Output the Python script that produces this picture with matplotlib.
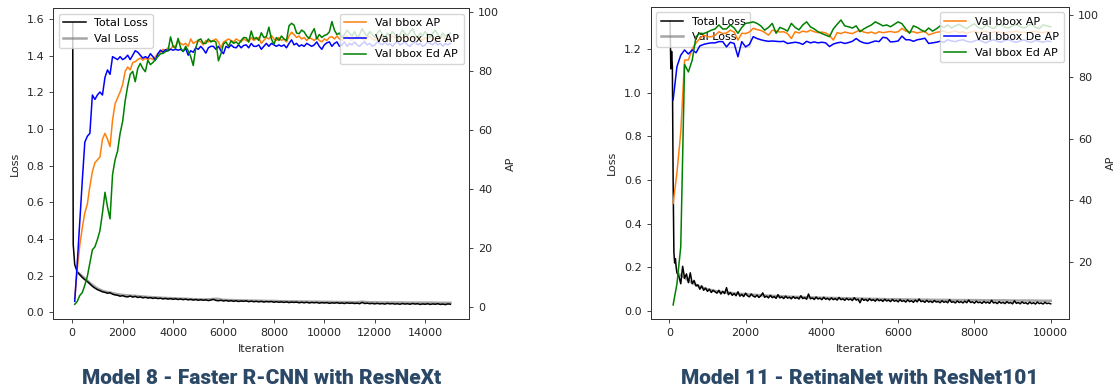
import numpy as np
import matplotlib
matplotlib.use("Agg")
import matplotlib.pyplot as plt

# ---------------- Model 8 (left) ----------------
m8_loss_x = [20, 40] + list(range(100, 15001, 100))
m8_total_loss = [1.58, 0.37,
    0.26, 0.22, 0.205, 0.19, 0.178, 0.168, 0.155, 0.142, 0.132, 0.124,
    0.118, 0.112, 0.109, 0.104, 0.107, 0.099, 0.095, 0.093, 0.088, 0.091,
    0.086, 0.084, 0.089, 0.083, 0.087, 0.081, 0.084, 0.079, 0.082, 0.078,
    0.080, 0.076, 0.079, 0.075, 0.077, 0.073, 0.076, 0.072, 0.075, 0.071,
    0.074, 0.070, 0.073, 0.069, 0.072, 0.068, 0.071, 0.067, 0.070, 0.066,
    0.069, 0.066, 0.068, 0.064, 0.067, 0.071, 0.065, 0.063, 0.066, 0.062,
    0.065, 0.061, 0.064, 0.060, 0.063, 0.059, 0.062, 0.060, 0.063, 0.058,
    0.061, 0.058, 0.060, 0.057, 0.060, 0.056, 0.059, 0.057, 0.059, 0.055,
    0.058, 0.055, 0.057, 0.054, 0.057, 0.053, 0.056, 0.054, 0.056, 0.052,
    0.055, 0.052, 0.055, 0.051, 0.054, 0.052, 0.054, 0.050, 0.053, 0.051,
    0.053, 0.049, 0.052, 0.050, 0.053, 0.049, 0.051, 0.048, 0.052, 0.049,
    0.051, 0.048, 0.050, 0.047, 0.054, 0.048, 0.050, 0.047, 0.049, 0.046,
    0.049, 0.046, 0.048, 0.045, 0.049, 0.046, 0.048, 0.045, 0.047, 0.044,
    0.048, 0.045, 0.047, 0.044, 0.048, 0.045, 0.047, 0.043, 0.046, 0.044,
    0.047, 0.043, 0.046, 0.044, 0.047, 0.043, 0.045, 0.042, 0.046, 0.044]
m8_val_x = list(range(250, 15001, 250))
m8_val_loss = [
    0.215, 0.185, 0.155, 0.130, 0.115, 0.108, 0.100, 0.095, 0.092, 0.090,
    0.087, 0.084, 0.082, 0.080, 0.078, 0.077, 0.075, 0.074, 0.072, 0.071,
    0.070, 0.072, 0.074, 0.068, 0.067, 0.066, 0.065, 0.064, 0.064, 0.063,
    0.062, 0.062, 0.061, 0.060, 0.060, 0.059, 0.059, 0.058, 0.058, 0.057,
    0.057, 0.056, 0.056, 0.056, 0.055, 0.058, 0.055, 0.055, 0.054, 0.054,
    0.054, 0.054, 0.053, 0.053, 0.053, 0.053, 0.053, 0.052, 0.052, 0.052]
m8_ap_x = list(range(100, 15001, 100))
m8_ap = [
    3, 13, 21, 27, 32, 35, 41, 46, 49, 50,
    51, 57, 59, 57, 54.5, 63.5, 69, 71, 73, 75.5,
    80, 81.5, 80.5, 83, 83.3, 84, 84.5, 83.8, 84.5, 84,
    84.5, 84, 85, 86, 86.5, 87.5, 87, 88, 87.5, 88.7,
    88.5, 90.4, 89.5, 89, 89.5, 88.5, 91, 89.5, 90, 90.5,
    90, 89, 90.5, 90, 90.4, 90.5, 91, 90, 88, 90,
    90.5, 91, 90.5, 90, 91, 90.5, 90, 91, 90.5, 90,
    91.5, 90.5, 91, 91.5, 89.5, 90.5, 91.5, 91, 92.2, 91,
    90.5, 91.5, 90.5, 91, 90, 92, 93.3, 92.5, 91.5, 92,
    91, 91.5, 90.5, 91.5, 91, 90.5, 91.5, 90.5, 90, 91,
    90.5, 91.5, 91.8, 91, 92, 91, 90.5, 91.5, 92, 91,
    90.5, 91.5, 91, 92, 91, 90.5, 91.5, 92, 91, 90.5,
    91.5, 91, 92, 91.5, 90.5, 91, 92, 91.5, 91, 90.5,
    91.5, 92, 91, 90.5, 91.5, 91, 92, 91, 90.5, 91.5,
    91, 92, 91.5, 90.5, 91, 91.5, 92, 91, 90.5, 91]
m8_ap_de = [
    2, 15, 29, 43, 56, 58, 59, 72, 70.5, 72,
    73, 72, 78, 80.5, 79, 85, 84.5, 84, 85, 84,
    84.5, 85.5, 84, 85.5, 87, 86.5, 85.5, 84.5, 85, 84.5,
    86, 85, 83.8, 86, 87.2, 86.5, 87.4, 87, 87.5, 87.2,
    87.5, 87.2, 87.5, 86.8, 87.8, 85.5, 87, 86.5, 88, 87.5,
    88.5, 87.5, 86.2, 88, 88.5, 88.5, 87.5, 88.5, 87, 86,
    88.5, 88, 89, 88.2, 88, 89, 88, 88.8, 89, 88,
    89.5, 88.5, 88.5, 89, 87.5, 88.5, 89.5, 88.5, 89.5, 89,
    88.5, 89, 88.5, 89, 88, 89.5, 90.7, 89, 89.5, 88.5,
    89, 88.5, 89.5, 89, 88.5, 89, 90, 88.5, 87.5, 89,
    89.7, 90, 88.5, 89.5, 90, 88.5, 89, 90, 88.5, 89.5,
    89, 90, 89, 88.5, 89.5, 90, 89, 89.5, 88.5, 89,
    90, 89.5, 89, 90, 89, 89.5, 88.5, 89.5, 90, 89,
    89.5, 90, 89, 88.5, 89.5, 90, 89, 89.5, 88.5, 89,
    90, 89.5, 89, 90, 89, 89.5, 88.5, 89.5, 89, 89.5]
m8_ap_ed = [
    1, 2, 4, 5, 7.5, 10.5, 15, 19.5, 20.5, 23,
    26, 32, 39, 34, 30, 45, 50, 53, 59, 63,
    70, 75, 79, 80, 76.5, 81, 82.7, 81, 79.9, 83.8,
    82.3, 83, 84, 85, 86, 86.1, 86.7, 87, 91.7, 88.5,
    87.8, 91.2, 88, 86.7, 88.5, 87, 85, 82, 88, 90.6,
    91, 89.5, 89.5, 91, 90, 90.4, 90, 83.6, 86, 89.3,
    90, 88.5, 90.4, 89.5, 90, 89.2, 90.5, 91.5, 91.4, 90,
    93.7, 91, 91.5, 90.5, 93.1, 91.5, 91.8, 95, 91, 89.2,
    91.5, 90.5, 92, 91, 90.5, 95.5, 96.3, 95.7, 93, 92.8,
    94, 93.4, 92, 91.2, 93, 94.5, 91, 92.5, 91.5, 92.2,
    92.5, 93.4, 96.9, 94, 92.5, 93, 91.5, 92.5, 94, 93,
    92, 93.5, 91.5, 92.5, 94.5, 93, 92, 93.5, 92.5, 91.5,
    93, 94, 92.5, 91.5, 93, 92, 93.5, 92.5, 91, 92.5,
    94, 93, 92, 93.5, 94.5, 92.5, 91.5, 93, 92, 93.5,
    92.5, 91.5, 93, 94, 92.5, 91.5, 93, 92, 92.5, 93]

# ---------------- Model 11 (right) ----------------
m11_loss_x = [20, 40, 60, 80, 100, 120, 140, 160, 180, 200] + list(range(250, 10001, 50))
m11_total_loss = [1.33, 1.11, 1.19, 1.12, 0.60, 0.27, 0.22, 0.24, 0.20, 0.175,
    0.160, 0.125, 0.205, 0.150, 0.170, 0.130, 0.175, 0.125, 0.140, 0.115,
    0.120, 0.100, 0.115, 0.095, 0.105, 0.090, 0.100, 0.085, 0.095, 0.088,
    0.082, 0.095, 0.078, 0.090, 0.080, 0.107, 0.075, 0.085, 0.072, 0.080,
    0.070, 0.088, 0.068, 0.076, 0.066, 0.082, 0.070, 0.065, 0.078, 0.068,
    0.064, 0.073, 0.062, 0.070, 0.083, 0.063, 0.068, 0.060, 0.072, 0.061,
    0.066, 0.058, 0.075, 0.060, 0.065, 0.057, 0.068, 0.059, 0.063, 0.056,
    0.066, 0.058, 0.062, 0.055, 0.070, 0.057, 0.061, 0.054, 0.078, 0.056,
    0.060, 0.053, 0.064, 0.055, 0.059, 0.052, 0.063, 0.054, 0.058, 0.051,
    0.060, 0.052, 0.057, 0.050, 0.062, 0.052, 0.056, 0.049, 0.058, 0.051,
    0.055, 0.048, 0.061, 0.050, 0.054, 0.038, 0.057, 0.049, 0.053, 0.046,
    0.056, 0.048, 0.052, 0.045, 0.055, 0.047, 0.051, 0.044, 0.054, 0.046,
    0.050, 0.043, 0.053, 0.045, 0.049, 0.042, 0.052, 0.044, 0.048, 0.041,
    0.051, 0.043, 0.047, 0.040, 0.050, 0.042, 0.055, 0.043, 0.046, 0.040,
    0.049, 0.041, 0.045, 0.039, 0.048, 0.041, 0.044, 0.038, 0.047, 0.040,
    0.044, 0.038, 0.052, 0.040, 0.043, 0.037, 0.046, 0.039, 0.043, 0.037,
    0.045, 0.038, 0.050, 0.039, 0.042, 0.036, 0.045, 0.038, 0.041, 0.035,
    0.044, 0.037, 0.041, 0.035, 0.049, 0.037, 0.040, 0.034, 0.043, 0.036,
    0.040, 0.034, 0.043, 0.036, 0.039, 0.033, 0.047, 0.035, 0.039, 0.033,
    0.042, 0.035, 0.038, 0.032, 0.041, 0.034, 0.038, 0.032, 0.041, 0.034,
    0.037, 0.032, 0.040, 0.034, 0.036, 0.033]
m11_val_x = list(range(250, 10001, 250))
m11_val_loss = [
    0.170, 0.140, 0.115, 0.100, 0.090, 0.085, 0.080, 0.077, 0.074, 0.071,
    0.069, 0.067, 0.065, 0.064, 0.062, 0.061, 0.060, 0.059, 0.058, 0.057,
    0.056, 0.055, 0.054, 0.054, 0.053, 0.052, 0.052, 0.051, 0.051, 0.050,
    0.050, 0.050, 0.049, 0.049, 0.049, 0.048, 0.048, 0.048, 0.047, 0.047]
m11_ap_x = list(range(100, 10001, 100))
m11_ap = [
    39, 49, 62, 85.4, 85.5, 89, 91, 92.4, 93.5, 93,
    93, 93.4, 94.6, 94, 94.2, 95.1, 94.5, 91.9, 94.1, 94,
    94.5, 95.7, 95.3, 95, 94.4, 93.5, 95.1, 94.8, 94.5, 94.6,
    94, 92.4, 94.6, 94.2, 94.8, 94.5, 95.1, 94.6, 94.3, 94.5,
    94.2, 93.5, 91.9, 94.3, 94, 94.5, 94.2, 94, 94.6, 95.1,
    94.5, 94.2, 94.5, 94, 94.6, 94.3, 94.5, 94.7, 94.4, 94.6,
    95.7, 94.8, 94.5, 94.6, 94.2, 94.5, 94.7, 93.6, 94, 94.4,
    94.6, 94.8, 94.2, 94.5, 94.9, 94.3, 94.6, 94, 94.5, 94.8,
    94.3, 94.6, 94.8, 94.2, 94.5, 94.7, 94.3, 94.1, 94.6, 94.4,
    94.8, 94.3, 94.5, 94.2, 94.6, 94.7, 94.4, 94.3, 94.6, 94.5]
m11_ap_de = [
    72.5, 83.3, 87, 88.7, 87.4, 88.7, 87.8, 90, 90.5, 90.8,
    91, 91, 91.4, 91.4, 89.7, 91.2, 90.8, 86.5, 91.4, 89.7,
    90.5, 93, 92.4, 92, 91.7, 91.5, 91.6, 91.5, 91.4, 91.5,
    90.8, 91, 91.2, 91, 90.5, 91.5, 91, 91.3, 91, 91.2,
    91, 89.8, 90.6, 91, 91.2, 90.8, 91.1, 91.5, 92.4, 91.5,
    91, 90.8, 91.2, 91.6, 91.4, 92.8, 92.6, 91.3, 91.4, 91.6,
    93.2, 92, 92, 91.5, 92, 92.2, 92.5, 90.8, 91, 91.2,
    91.5, 91.2, 92, 91.6, 91.4, 91.8, 92, 91.5, 91.2, 91.6,
    92, 91.5, 91, 91.6, 92, 91.5, 91.2, 91.8, 92, 91.5,
    91.2, 91.6, 92, 91.4, 91.2, 91.8, 91.5, 91.2, 91.6, 91.4]
m11_ap_ed = [
    6.2, 13, 25, 84, 81.6, 85.4, 93, 94.1, 94, 94.5,
    95.1, 95.5, 96.8, 95.5, 95.5, 96.8, 95.8, 94.1, 96, 97.3,
    97.5, 97.8, 97.3, 96.5, 95.1, 96, 97.3, 94.1, 96, 95.5,
    94.8, 97.3, 96, 95.2, 96.8, 97.8, 96.2, 95.5, 94.6, 94,
    93.5, 93, 95.5, 97, 98.4, 96.5, 96.2, 95.8, 96.5, 94.6,
    95.5, 96.2, 96.8, 97.8, 97.2, 96.5, 96.8, 96.2, 97, 97.8,
    97.2, 95.5, 94.1, 96.5, 96, 95.2, 94.6, 95.8, 94.8, 95.5,
    96.5, 96, 96.8, 95.8, 96.5, 97, 96.2, 95.6, 96.5, 97.2,
    96, 95.5, 96.8, 96.2, 95.6, 96.6, 97, 96, 95.8, 96.5,
    97, 96.2, 95.8, 96.5, 97.2, 96, 95.6, 96.8, 96.5, 96.2]

titles = ["Model 8 - Faster R-CNN with ResNeXt", "Model 11 - RetinaNet with ResNet101"]

plt.rcParams['font.family'] = ['DejaVu Sans']
FS = 8
TXT = '#262626'

W, H = 1116, 389
fig = plt.figure(figsize=(W / 100, H / 100), dpi=100)

panels = [
    dict(box=(53.3, 8.3, 469.3, 319.3), xlim=(-750, 15750), ylim=(-0.038, 1.658), ylim2=(-4.07, 101.4),
         yticks=[0.0, 0.2, 0.4, 0.6, 0.8, 1.0, 1.2, 1.4, 1.6], yticks2=[0, 20, 40, 60, 80, 100],
         xticks=list(range(0, 14001, 2000)),
         lx=m8_loss_x, tl=m8_total_loss, vx=m8_val_x, vl=m8_val_loss,
         ax_=m8_ap_x, ap=m8_ap, de=m8_ap_de, ed=m8_ap_ed),
    dict(box=(650.7, 6.7, 1069.3, 319.3), xlim=(-488, 10488), ylim=(-0.038, 1.395), ylim2=(1.55, 102.7),
         yticks=[0.0, 0.2, 0.4, 0.6, 0.8, 1.0, 1.2], yticks2=[20, 40, 60, 80, 100],
         xticks=list(range(0, 10001, 2000)),
         lx=m11_loss_x, tl=m11_total_loss, vx=m11_val_x, vl=m11_val_loss,
         ax_=m11_ap_x, ap=m11_ap, de=m11_ap_de, ed=m11_ap_ed),
]

for p, title in zip(panels, titles):
    x0, y0, x1, y1 = p['box']
    ax = fig.add_axes([x0 / W, 1 - y1 / H, (x1 - x0) / W, (y1 - y0) / H])
    ax2 = ax.twinx()
    ax.plot(p['lx'], p['tl'], color='black', lw=1.1, label='Total Loss', zorder=3)
    ax.plot(p['vx'], p['vl'], color='gray', lw=1.8, alpha=0.7, label='Val Loss', zorder=2)
    ax2.plot(p['ax_'], p['ap'], color='#ff7f0e', lw=1.1, label='Val bbox AP')
    ax2.plot(p['ax_'], p['de'], color='blue', lw=1.1, label='Val bbox De AP')
    ax2.plot(p['ax_'], p['ed'], color='green', lw=1.1, label='Val bbox Ed AP')
    ax.set_xlim(*p['xlim'])
    ax.set_ylim(*p['ylim'])
    ax2.set_ylim(*p['ylim2'])
    ax.set_xticks(p['xticks'])
    ax.set_yticks(p['yticks'])
    ax2.set_yticks(p['yticks2'])
    ax.set_xlabel('Iteration', fontsize=FS, color=TXT, labelpad=4)
    ax.set_ylabel('Loss', fontsize=FS, color=TXT, labelpad=5)
    ax2.set_ylabel('AP', fontsize=FS, color=TXT, labelpad=4.5)
    for a in (ax, ax2):
        a.tick_params(labelsize=FS, length=3, width=0.6, pad=3.5, colors=TXT)
        for s in a.spines.values():
            s.set_linewidth(0.7)
            s.set_color('#333333')
    ax.legend(loc='upper left', fontsize=FS, framealpha=0.8, borderaxespad=0.5)
    ax2.legend(loc='upper right', fontsize=FS, framealpha=0.8, borderaxespad=0.5)
    fig.text(((x0 + x1) / 2) / W, 1 - 378 / H, title, ha='center', va='center',
             fontsize=15, fontweight='black', family=['Roboto', 'DejaVu Sans'], color='#2b4867')

fig.savefig('out.png', dpi=100)
